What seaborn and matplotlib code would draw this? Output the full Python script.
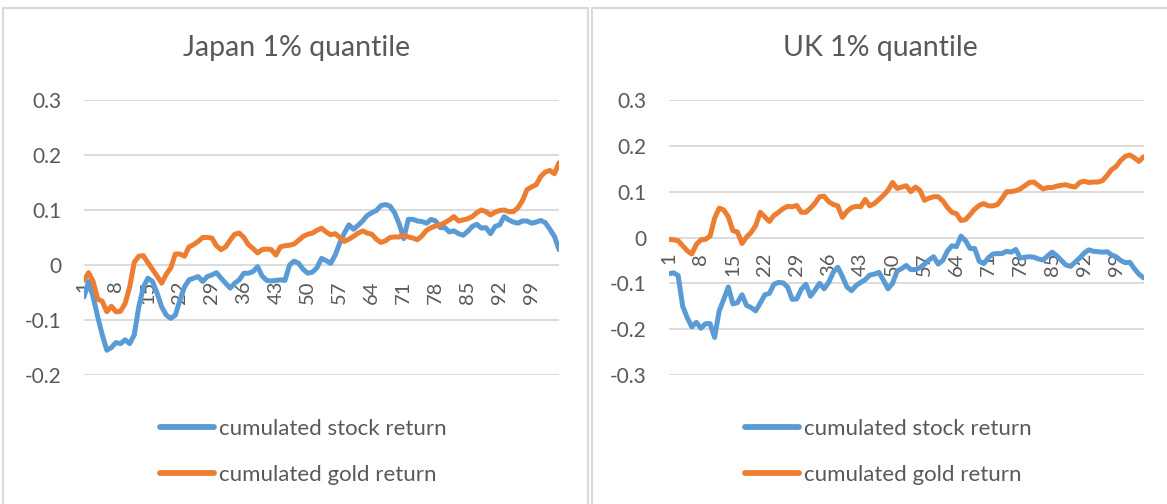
import pandas as pd
import matplotlib
matplotlib.use("Agg")
import matplotlib.pyplot as plt
import seaborn as sns
from matplotlib.patches import Rectangle
from matplotlib.lines import Line2D

# periods 1..105, labelled every 7th
periods = list(range(1, 106))
tick_pos = list(range(1, 106, 7))
tick_labels = [str(p) for p in tick_pos]

series_names = ["cumulated stock return", "cumulated gold return"]

japan_stock = [
    -0.058, -0.030, -0.058, -0.094, -0.127, -0.155, -0.150, -0.141, -0.143, -0.136,
    -0.143, -0.127, -0.076, -0.040, -0.024, -0.030, -0.051, -0.076, -0.091, -0.097,
    -0.091, -0.064, -0.040, -0.027, -0.024, -0.021, -0.030, -0.021, -0.018, -0.014,
    -0.024, -0.033, -0.042, -0.033, -0.027, -0.015, -0.015, -0.012, -0.003, -0.020,
    -0.028, -0.029, -0.028, -0.027, -0.028, 0.000, 0.007, 0.003, -0.008, -0.015,
    -0.013, -0.005, 0.012, 0.008, 0.003, 0.018, 0.040, 0.058, 0.073, 0.065,
    0.072, 0.080, 0.090, 0.095, 0.099, 0.108, 0.110, 0.107, 0.095, 0.075,
    0.048, 0.083, 0.083, 0.080, 0.079, 0.076, 0.083, 0.080, 0.068, 0.068,
    0.060, 0.062, 0.057, 0.054, 0.061, 0.070, 0.074, 0.067, 0.068, 0.057,
    0.070, 0.073, 0.088, 0.082, 0.078, 0.076, 0.080, 0.080, 0.076, 0.078,
    0.081, 0.077, 0.065, 0.052, 0.028,
]
japan_gold = [
    -0.028, -0.014, -0.030, -0.062, -0.066, -0.085, -0.075, -0.085, -0.084, -0.070,
    -0.040, 0.005, 0.016, 0.017, 0.004, -0.008, -0.020, -0.033, -0.017, -0.005,
    0.020, 0.020, 0.016, 0.033, 0.037, 0.043, 0.050, 0.050, 0.049, 0.035,
    0.028, 0.033, 0.045, 0.056, 0.058, 0.050, 0.037, 0.030, 0.022, 0.028,
    0.029, 0.028, 0.018, 0.033, 0.035, 0.036, 0.038, 0.045, 0.052, 0.056,
    0.058, 0.063, 0.067, 0.060, 0.055, 0.057, 0.050, 0.043, 0.047, 0.052,
    0.058, 0.062, 0.058, 0.056, 0.047, 0.041, 0.044, 0.050, 0.051, 0.051,
    0.054, 0.051, 0.049, 0.046, 0.053, 0.063, 0.068, 0.071, 0.073, 0.077,
    0.082, 0.088, 0.080, 0.082, 0.084, 0.088, 0.095, 0.100, 0.097, 0.091,
    0.096, 0.099, 0.100, 0.097, 0.097, 0.104, 0.117, 0.137, 0.142, 0.146,
    0.161, 0.169, 0.172, 0.166, 0.186,
]
uk_stock = [
    -0.079, -0.077, -0.083, -0.150, -0.175, -0.195, -0.185, -0.198, -0.188, -0.188,
    -0.218, -0.160, -0.135, -0.108, -0.145, -0.142, -0.125, -0.148, -0.153, -0.160,
    -0.143, -0.125, -0.122, -0.102, -0.098, -0.099, -0.108, -0.135, -0.134, -0.113,
    -0.102, -0.128, -0.115, -0.100, -0.112, -0.098, -0.076, -0.065, -0.085, -0.108,
    -0.116, -0.105, -0.098, -0.092, -0.082, -0.080, -0.076, -0.093, -0.112, -0.100,
    -0.073, -0.068, -0.061, -0.070, -0.070, -0.066, -0.058, -0.049, -0.042, -0.058,
    -0.050, -0.030, -0.018, -0.020, 0.003, -0.007, -0.024, -0.024, -0.052, -0.057,
    -0.044, -0.036, -0.035, -0.035, -0.030, -0.032, -0.026, -0.045, -0.043, -0.042,
    -0.043, -0.047, -0.049, -0.040, -0.032, -0.040, -0.050, -0.060, -0.063, -0.054,
    -0.045, -0.034, -0.027, -0.030, -0.031, -0.032, -0.031, -0.038, -0.042, -0.050,
    -0.055, -0.054, -0.068, -0.080, -0.088,
]
uk_gold = [
    -0.004, -0.005, -0.007, -0.018, -0.029, -0.036, -0.015, -0.005, -0.004, 0.003,
    0.042, 0.064, 0.060, 0.045, 0.015, 0.012, -0.013, 0.001, 0.011, 0.026,
    0.055, 0.045, 0.035, 0.048, 0.055, 0.063, 0.068, 0.067, 0.070, 0.055,
    0.055, 0.064, 0.075, 0.089, 0.090, 0.078, 0.072, 0.069, 0.044, 0.057,
    0.065, 0.068, 0.067, 0.083, 0.069, 0.074, 0.083, 0.092, 0.103, 0.120,
    0.107, 0.110, 0.113, 0.100, 0.110, 0.103, 0.081, 0.086, 0.089, 0.089,
    0.080, 0.066, 0.055, 0.052, 0.037, 0.039, 0.050, 0.062, 0.070, 0.074,
    0.069, 0.069, 0.072, 0.085, 0.100, 0.100, 0.102, 0.106, 0.113, 0.120,
    0.121, 0.113, 0.106, 0.109, 0.109, 0.112, 0.114, 0.115, 0.112, 0.110,
    0.120, 0.123, 0.120, 0.121, 0.121, 0.124, 0.135, 0.148, 0.155, 0.168,
    0.177, 0.180, 0.174, 0.166, 0.176,
]

colors = ["#5B9BD5", "#ED7D31"]
grey = "#595959"
grid_c = "#D9D9D9"

sns.set_theme(style="white")
plt.rcParams['font.family'] = ['Lato', 'DejaVu Sans']

W, H = 1167, 504
fig = plt.figure(figsize=(W / 100, H / 100), dpi=100)


def box(x0, y0, x1, y1):
    # pixel box -> figure fraction [left, bottom, width, height]
    return [x0 / W, 1 - y1 / H, (x1 - x0) / W, (y1 - y0) / H]


panels = [
    dict(title="Japan 1% quantile", stock=japan_stock, gold=japan_gold,
         ylim=(-0.2, 0.3), ax_box=(84, 100, 559, 375), frame=(3, 8, 588, 520),
         title_x=297, legend_x=160),
    dict(title="UK 1% quantile", stock=uk_stock, gold=uk_gold,
         ylim=(-0.3, 0.3), ax_box=(669, 100, 1143.5, 375), frame=(592, 8, 1180, 520),
         title_x=880, legend_x=745),
]

for p in panels:
    # light grey chart frame like the spreadsheet chart area
    fx0, fy0, fx1, fy1 = p["frame"]
    fig.patches.append(Rectangle((fx0 / W, 1 - fy1 / H), (fx1 - fx0) / W, (fy1 - fy0) / H,
                                 transform=fig.transFigure, fill=False,
                                 edgecolor=grid_c, lw=1.5))

    ax = fig.add_axes(box(*p["ax_box"]))
    df = pd.DataFrame({
        "period": periods * 2,
        "value": p["stock"] + p["gold"],
        "series": [series_names[0]] * len(periods) + [series_names[1]] * len(periods),
    })
    sns.lineplot(data=df, x="period", y="value", hue="series", palette=colors,
                 lw=3.6, legend=False, ax=ax)
    for ln in ax.get_lines():
        ln.set_solid_joinstyle("round")
        ln.set_solid_capstyle("round")

    for s in ax.spines.values():
        s.set_visible(False)
    ax.spines["bottom"].set_position(("data", 0))

    lo, hi = p["ylim"]
    ax.set_xlim(1, 105)
    ax.set_ylim(lo, hi)
    yt = [round(lo + 0.1 * k, 1) for k in range(int(round((hi - lo) / 0.1)) + 1)]
    ax.set_yticks(yt)
    ax.set_yticklabels([f"{v:g}" for v in yt])
    ax.set_xticks(tick_pos)
    ax.set_xticklabels(tick_labels)
    ax.set_xlabel("")
    ax.set_ylabel("")

    ax.set_axisbelow(True)
    ax.yaxis.grid(True, color=grid_c, lw=1.3)
    ax.xaxis.grid(False)
    ax.tick_params(axis="y", length=0, pad=16, labelsize=15, labelcolor=grey)
    ax.tick_params(axis="x", length=0, pad=11, labelsize=14.5, labelcolor=grey,
                   labelrotation=90)
    ax.patch.set_alpha(0)

    fig.text(p["title_x"] / W, 1 - 48 / H, p["title"], ha="center", va="center",
             fontsize=20.5, color=grey)

    handles = [Line2D([], [], color=c, lw=4.2, solid_capstyle="round") for c in colors]
    fig.legend(handles, series_names, loc="upper left",
               bbox_to_anchor=(p["legend_x"] / W, 1 - 419 / H), frameon=False,
               fontsize=16, labelcolor=grey, handlelength=2.45, handletextpad=0.2,
               labelspacing=1.15, borderpad=0, borderaxespad=0)

fig.savefig("out.png", dpi=100, facecolor="white")
